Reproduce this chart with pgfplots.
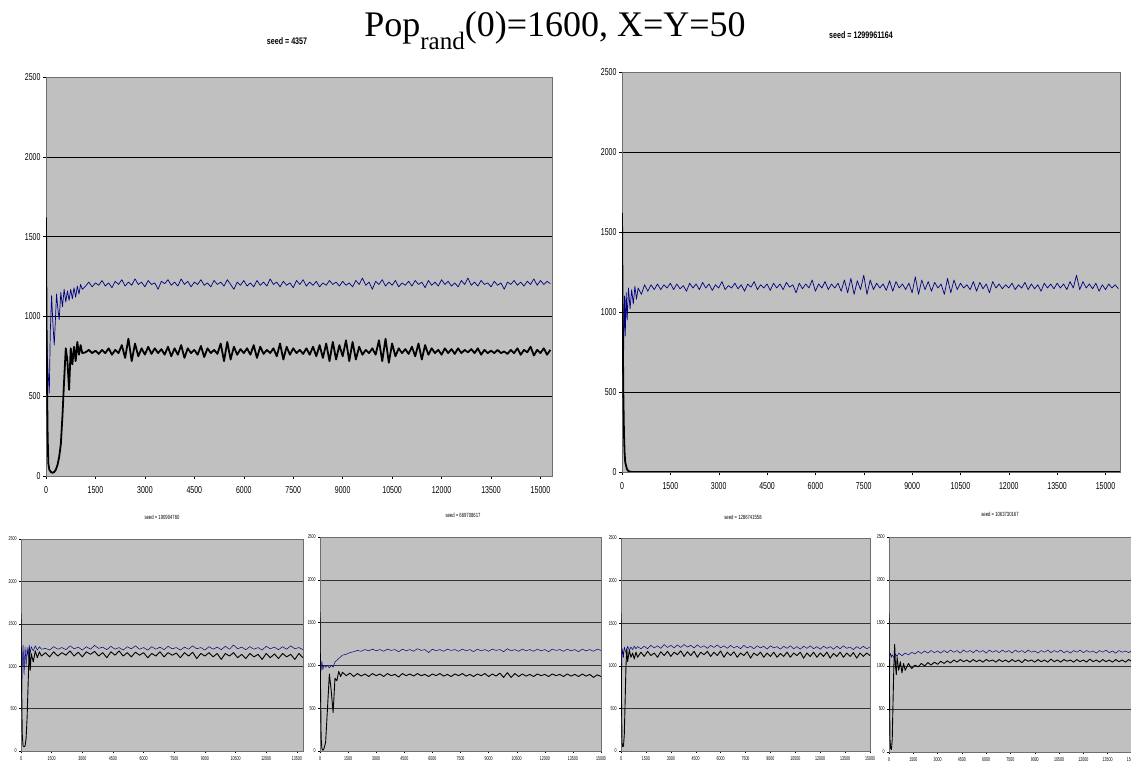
\documentclass[border=0pt]{standalone}
\usepackage{pgfplots}
\pgfplotsset{compat=1.18}
\usepackage{fontspec}
\setmainfont{Liberation Serif}
\newfontfamily\arial{Liberation Sans}
\definecolor{plotgray}{RGB}{192,192,192}
\definecolor{axgray}{RGB}{110,110,110}
\definecolor{navyline}{RGB}{0,0,128}
\pgfplotsset{
 excel/.style={scale only axis, clip=true, xmin=0, ymin=0, ymax=2500,
  ytick={0,500,...,2500}, xtick={0,1500,...,15000},
  scaled x ticks=false, scaled y ticks=false,
  axis background/.style={fill=plotgray},
  ymajorgrids, grid style={black, line width=0.5pt},
  axis line style={draw=axgray}, tick align=outside, tick pos=left,
  major tick length=3pt, tick style={black, line width=0.4pt},
  /pgf/number format/1000 sep={}, /pgf/number format/assume math mode=true,
  /pgf/number format/fixed,
  xticklabel={\pgfmathprintnumber[fixed,precision=0,1000 sep={}]{\tick}},
  enlargelimits=false},
 big/.style={excel, tick label style={font=\arial\fontsize{10}{10}\selectfont, xscale=0.7},
  xticklabel style={yshift=-4pt}},
 small/.style={excel, major tick length=2pt, grid style={black!80, line width=0.35pt},
  tick label style={font=\arial\fontsize{5.5}{5.5}\selectfont, xscale=0.65}},
 kline/.style={black, line width=1.8pt, line join=round},
 bline/.style={navyline, line width=0.7pt, line join=round},
 ksmall/.style={black, line width=0.9pt, line join=round},
 bsmall/.style={navyline, line width=0.5pt, line join=round},
}
\begin{document}
\begin{tikzpicture}
\path[use as bounding box] (0pt,0pt) rectangle (1131pt,768pt);
\clip (0pt,0pt) rectangle (1131pt,768pt);
% titles
\node[font=\fontsize{36}{36}\selectfont, anchor=base] at (555pt,731pt) {Pop\raisebox{-0.36em}{\fontsize{25}{25}\selectfont rand}(0)=1600, X=Y=50};
\node[font=\arial\bfseries\fontsize{9.5}{9.5}\selectfont, xscale=0.75] at (287pt,727pt) {seed = 4357};
\node[font=\arial\bfseries\fontsize{9.5}{9.5}\selectfont, xscale=0.75] at (861pt,733pt) {seed = 1299961164};
\node[font=\arial\fontsize{6}{6}\selectfont, xscale=0.7] at (162pt,251pt) {seed = 190904760};
\node[font=\arial\fontsize{6}{6}\selectfont, xscale=0.7] at (463pt,253pt) {seed = 669708617};
\node[font=\arial\fontsize{6}{6}\selectfont, xscale=0.7] at (743pt,251pt) {seed = 1286741558};
\node[font=\arial\fontsize{6}{6}\selectfont, xscale=0.7] at (1000pt,254pt) {seed = 1063730167};

% ---------- top left ----------
\begin{axis}[big, at={(46pt,292pt)}, anchor=south west, width=506pt, height=399pt, xmax=15350]
\addplot[bline] table[row sep=\\] {
0 1100\\20 900\\50 700\\100 520\\130 900\\170 1130\\210 950\\250 820\\290 1000\\320 1140\\360 1050\\400 980\\450 1150\\500 1060\\550 1170\\600 1090\\650 1160\\700 1100\\750 1170\\800 1110\\850 1180\\900 1120\\950 1190\\1000 1140\\1050 1200\\1100 1170\\
1200 1190\\1300 1215\\1400 1185\\1500 1210\\1600 1195\\1700 1225\\1800 1190\\1900 1210\\2000 1180\\2100 1220\\2200 1200\\2300 1230\\2400 1190\\2500 1215\\2600 1195\\2700 1235\\2800 1200\\2900 1215\\3000 1185\\3100 1225\\3200 1200\\3300 1210\\3400 1170\\3500 1220\\3600 1205\\3700 1230\\3800 1195\\3900 1215\\4000 1190\\4100 1235\\4200 1200\\4300 1220\\4400 1185\\4500 1215\\4600 1200\\4700 1230\\4800 1195\\4900 1210\\5000 1185\\5100 1225\\5200 1200\\5300 1215\\5400 1190\\5500 1230\\5600 1200\\5700 1170\\5800 1215\\5900 1195\\6000 1225\\6100 1190\\6200 1210\\6300 1185\\6400 1225\\6500 1195\\6600 1215\\6700 1190\\6800 1235\\6900 1200\\7000 1215\\7100 1185\\7200 1220\\7300 1195\\7400 1210\\7500 1180\\7600 1225\\7700 1200\\7800 1230\\7900 1190\\8000 1215\\8100 1195\\8200 1220\\8300 1185\\8400 1210\\8500 1195\\8600 1225\\8700 1200\\8800 1215\\8900 1190\\9000 1220\\9100 1195\\9200 1210\\9300 1185\\9400 1225\\9500 1200\\9600 1240\\9700 1195\\9800 1215\\9900 1170\\10000 1220\\10100 1200\\10200 1230\\10300 1190\\10400 1215\\10500 1195\\10600 1225\\10700 1185\\10800 1210\\10900 1195\\11000 1220\\11100 1190\\11200 1225\\11300 1200\\11400 1215\\11500 1180\\11600 1225\\11700 1195\\11800 1215\\11900 1190\\12000 1230\\12100 1200\\12200 1220\\12300 1190\\12400 1210\\12500 1185\\12600 1225\\12700 1200\\12800 1240\\12900 1195\\13000 1215\\13100 1190\\13200 1225\\13300 1200\\13400 1210\\13500 1185\\13600 1220\\13700 1195\\13800 1210\\13900 1170\\14000 1215\\14100 1200\\14200 1225\\14300 1195\\14400 1215\\14500 1190\\14600 1220\\14700 1200\\14800 1235\\14900 1195\\15000 1225\\15100 1200\\15200 1220\\15300 1205\\
};
\addplot[kline] table[row sep=\\] {
0 1620\\15 1000\\30 600\\50 250\\70 80\\100 40\\150 25\\200 20\\250 25\\300 40\\350 70\\400 120\\450 200\\500 380\\550 600\\600 800\\650 720\\700 540\\750 800\\800 700\\850 810\\900 720\\950 840\\1000 760\\1050 820\\1100 770\\
1200 775\\1300 790\\1400 770\\1500 785\\1600 765\\1700 790\\1800 770\\1900 800\\2000 760\\2100 790\\2200 770\\2300 820\\2400 740\\2500 860\\2600 720\\2700 830\\2800 750\\2900 800\\3000 760\\3100 810\\3200 765\\3300 800\\3400 770\\3500 795\\3600 760\\3700 810\\3800 750\\3900 800\\4000 760\\4100 820\\4200 740\\4300 800\\4400 770\\4500 790\\4600 760\\4700 815\\4800 745\\4900 800\\5000 770\\5100 790\\5200 765\\5300 830\\5400 720\\5500 840\\5600 730\\5700 810\\5800 760\\5900 795\\6000 770\\6100 800\\6200 760\\6300 820\\6400 740\\6500 810\\6600 765\\6700 790\\6800 770\\6900 800\\7000 750\\7100 830\\7200 730\\7300 810\\7400 760\\7500 800\\7600 770\\7700 790\\7800 765\\7900 800\\8000 760\\8100 810\\8200 750\\8300 820\\8400 740\\8500 830\\8600 720\\8700 840\\8800 730\\8900 820\\9000 750\\9100 850\\9200 720\\9300 840\\9400 730\\9500 810\\9600 760\\9700 790\\9800 770\\9900 800\\10000 760\\10100 850\\10200 720\\10300 860\\10400 710\\10500 830\\10600 750\\10700 800\\10800 770\\10900 795\\11000 765\\11100 810\\11200 750\\11300 830\\11400 730\\11500 820\\11600 760\\11700 800\\11800 770\\11900 790\\12000 760\\12100 800\\12200 770\\12300 795\\12400 765\\12500 800\\12600 770\\12700 790\\12800 775\\12900 795\\13000 770\\13100 800\\13200 760\\13300 790\\13400 770\\13500 785\\13600 770\\13700 790\\13800 770\\13900 780\\14000 765\\14100 790\\14200 770\\14300 800\\14400 760\\14500 790\\14600 775\\14700 810\\14800 755\\14900 790\\15000 770\\15100 800\\15200 760\\15300 790\\
};
\end{axis}

% ---------- top right ----------
\begin{axis}[big, at={(622pt,296pt)}, anchor=south west, width=498pt, height=400pt, xmax=15450]
\addplot[bline] table[row sep=\\] {
0 1500\\20 1100\\40 600\\60 900\\80 1100\\100 850\\130 1120\\160 950\\200 1150\\250 1020\\300 1140\\350 1050\\400 1160\\450 1080\\500 1150\\600 1110\\700 1170\\800 1130\\900 1170\\1000 1140\\
1100 1175\\1200 1140\\1300 1170\\1400 1150\\1500 1180\\1600 1140\\1700 1175\\1800 1145\\1900 1165\\2000 1130\\2100 1180\\2200 1150\\2300 1175\\2400 1140\\2500 1185\\2600 1150\\2700 1175\\2800 1135\\2900 1170\\3000 1150\\3100 1190\\3200 1140\\3300 1165\\3400 1150\\3500 1180\\3600 1145\\3700 1170\\3800 1130\\3900 1175\\4000 1155\\4100 1190\\4200 1140\\4300 1170\\4400 1150\\4500 1175\\4600 1135\\4700 1180\\4800 1150\\4900 1175\\5000 1140\\5100 1185\\5200 1155\\5300 1170\\5400 1120\\5500 1180\\5600 1145\\5700 1175\\5800 1150\\5900 1200\\6000 1130\\6100 1175\\6200 1150\\6300 1190\\6400 1140\\6500 1175\\6600 1150\\6700 1180\\6800 1130\\6900 1200\\7000 1120\\7100 1210\\7200 1110\\7300 1195\\7400 1140\\7500 1230\\7600 1110\\7700 1200\\7800 1140\\7900 1180\\8000 1150\\8100 1175\\8200 1135\\8300 1195\\8400 1130\\8500 1190\\8600 1150\\8700 1175\\8800 1140\\8900 1180\\9000 1120\\9100 1220\\9200 1110\\9300 1200\\9400 1140\\9500 1190\\9600 1130\\9700 1185\\9800 1150\\9900 1175\\10000 1110\\10100 1210\\10200 1120\\10300 1200\\10400 1140\\10500 1180\\10600 1150\\10700 1170\\10800 1140\\10900 1190\\11000 1130\\11100 1185\\11200 1145\\11300 1175\\11400 1120\\11500 1190\\11600 1150\\11700 1175\\11800 1145\\11900 1170\\12000 1150\\12100 1180\\12200 1140\\12300 1170\\12400 1150\\12500 1185\\12600 1140\\12700 1175\\12800 1145\\12900 1170\\13000 1130\\13100 1180\\13200 1150\\13300 1175\\13400 1145\\13500 1180\\13600 1150\\13700 1175\\13800 1140\\13900 1190\\14000 1150\\14100 1230\\14200 1140\\14300 1190\\14400 1150\\14500 1175\\14600 1145\\14700 1180\\14800 1130\\14900 1170\\15000 1140\\15100 1175\\15200 1150\\15300 1170\\15400 1145\\
};
\addplot[kline] table[row sep=\\] {
0 1620\\20 1000\\40 500\\60 250\\80 120\\100 60\\150 20\\200 5\\300 0\\15450 0\\
};
\end{axis}

% ---------- small 1 ----------
\begin{axis}[small, at={(21pt,17pt)}, anchor=south west, width=282pt, height=212pt, xmax=13800]
\addplot[bsmall] table[row sep=\\] {
0 1100\\30 600\\60 1000\\100 1250\\150 900\\200 1230\\250 1000\\300 1220\\350 1100\\400 1250\\450 1150\\500 1230\\600 1180\\700 1240\\800 1190\\900 1230\\1000 1200\\
1200 1210\\1400 1190\\1600 1230\\1800 1200\\2000 1220\\2200 1195\\2400 1240\\2600 1205\\2800 1225\\3000 1190\\3200 1230\\3400 1200\\3600 1245\\3800 1210\\4000 1225\\4200 1195\\4400 1235\\4600 1200\\4800 1220\\5000 1190\\5200 1230\\5400 1205\\5600 1240\\5800 1200\\6000 1220\\6200 1190\\6400 1230\\6600 1200\\6800 1225\\7000 1195\\7200 1235\\7400 1205\\7600 1220\\7800 1190\\8000 1225\\8200 1200\\8400 1240\\8600 1205\\8800 1220\\9000 1190\\9200 1230\\9400 1200\\9600 1225\\9800 1195\\10000 1235\\10200 1200\\10400 1250\\10600 1205\\10800 1225\\11000 1195\\11200 1230\\11400 1200\\11600 1220\\11800 1190\\12000 1235\\12200 1205\\12400 1225\\12600 1195\\12800 1230\\13000 1200\\13200 1240\\13400 1205\\13600 1220\\13800 1195\\
};
\addplot[ksmall] table[row sep=\\] {
0 1620\\30 800\\60 200\\100 60\\150 50\\200 60\\250 150\\300 400\\350 800\\400 1200\\450 950\\500 1150\\600 1050\\700 1180\\800 1100\\900 1170\\1000 1120\\
1200 1160\\1400 1110\\1600 1170\\1800 1120\\2000 1160\\2200 1130\\2400 1180\\2600 1120\\2800 1165\\3000 1110\\3200 1170\\3400 1140\\3600 1175\\3800 1120\\4000 1160\\4200 1100\\4400 1170\\4600 1130\\4800 1180\\5000 1120\\5200 1160\\5400 1110\\5600 1165\\5800 1130\\6000 1160\\6200 1100\\6400 1150\\6600 1120\\6800 1170\\7000 1110\\7200 1160\\7400 1130\\7600 1155\\7800 1100\\8000 1160\\8200 1120\\8400 1165\\8600 1090\\8800 1150\\9000 1120\\9200 1160\\9400 1110\\9600 1150\\9800 1080\\10000 1150\\10200 1120\\10400 1160\\10600 1100\\10800 1140\\11000 1090\\11200 1150\\11400 1110\\11600 1140\\11800 1080\\12000 1150\\12200 1100\\12400 1145\\12600 1090\\12800 1150\\13000 1110\\13200 1140\\13400 1080\\13600 1150\\13800 1100\\
};
\end{axis}

% ---------- small 2 ----------
\begin{axis}[small, at={(320pt,17pt)}, anchor=south west, width=281pt, height=214pt, xmax=15000]
\addplot[bsmall] table[row sep=\\] {
0 1000\\30 900\\60 950\\100 1050\\150 950\\200 1000\\300 980\\400 1000\\500 970\\600 1000\\700 980\\800 1040\\900 1060\\1000 1080\\1100 1100\\1200 1120\\
1400 1130\\1600 1150\\1800 1160\\2000 1175\\2200 1165\\2400 1185\\2600 1170\\2800 1190\\3000 1170\\3200 1185\\3400 1165\\3600 1190\\3800 1175\\4000 1185\\4200 1160\\4400 1190\\4600 1170\\4800 1185\\5000 1165\\5200 1195\\5400 1175\\5600 1185\\5800 1150\\6000 1190\\6200 1170\\6400 1185\\6600 1165\\6800 1190\\7000 1175\\7200 1185\\7400 1165\\7600 1190\\7800 1170\\8000 1185\\8200 1160\\8400 1190\\8600 1170\\8800 1185\\9000 1165\\9200 1190\\9400 1175\\9600 1185\\9800 1160\\10000 1195\\10200 1170\\10400 1185\\10600 1165\\10800 1190\\11000 1170\\11200 1185\\11400 1165\\11600 1190\\11800 1170\\12000 1185\\12200 1160\\12400 1190\\12600 1175\\12800 1185\\13000 1165\\13200 1190\\13400 1170\\13600 1185\\13800 1160\\14000 1190\\14200 1170\\14400 1185\\14600 1165\\14800 1190\\15000 1175\\
};
\addplot[ksmall] table[row sep=\\] {
0 1620\\30 700\\60 150\\100 30\\150 10\\200 20\\300 100\\400 500\\500 900\\600 700\\700 450\\800 850\\900 820\\1000 930\\1100 870\\1200 920\\
1400 880\\1600 910\\1800 870\\2000 905\\2200 875\\2400 900\\2600 870\\2800 905\\3000 880\\3200 900\\3400 870\\3600 905\\3800 880\\4000 895\\4200 865\\4400 905\\4600 880\\4800 900\\5000 875\\5200 905\\5400 880\\5600 895\\5800 870\\6000 900\\6200 880\\6400 905\\6600 875\\6800 895\\7000 870\\7200 900\\7400 880\\7600 905\\7800 875\\8000 895\\8200 870\\8400 900\\8600 880\\8800 905\\9000 870\\9200 900\\9400 875\\9600 910\\9800 860\\10000 915\\10200 860\\10400 905\\10600 870\\10800 900\\11000 875\\11200 895\\11400 870\\11600 900\\11800 880\\12000 895\\12200 870\\12400 900\\12600 880\\12800 895\\13000 870\\13200 900\\13400 875\\13600 895\\13800 870\\14000 900\\14200 875\\14400 895\\14600 860\\14800 890\\15000 870\\
};
\end{axis}

% ---------- small 3 ----------
\begin{axis}[small, at={(621pt,17pt)}, anchor=south west, width=249pt, height=213pt, xmax=15000]
\addplot[bsmall] table[row sep=\\] {
0 1000\\30 800\\60 1100\\100 1200\\150 1100\\200 1220\\300 1150\\400 1230\\500 1180\\600 1220\\700 1190\\800 1230\\900 1200\\1000 1225\\
1200 1200\\1400 1230\\1600 1200\\1800 1240\\2000 1210\\2200 1235\\2400 1205\\2600 1250\\2800 1215\\3000 1240\\3200 1210\\3400 1245\\3600 1215\\3800 1250\\4000 1220\\4200 1240\\4400 1210\\4600 1245\\4800 1215\\5000 1235\\5200 1205\\5400 1240\\5600 1215\\5800 1245\\6000 1210\\6200 1235\\6400 1205\\6600 1240\\6800 1210\\7000 1230\\7200 1200\\7400 1240\\7600 1210\\7800 1230\\8000 1200\\8200 1235\\8400 1210\\8600 1230\\8800 1195\\9000 1235\\9200 1210\\9400 1225\\9600 1195\\9800 1230\\10000 1205\\10200 1235\\10400 1200\\10600 1225\\10800 1195\\11000 1230\\11200 1205\\11400 1235\\11600 1200\\11800 1225\\12000 1195\\12200 1230\\12400 1205\\12600 1225\\12800 1195\\13000 1230\\13200 1200\\13400 1235\\13600 1205\\13800 1220\\14000 1190\\14200 1225\\14400 1200\\14600 1230\\14800 1200\\15000 1220\\
};
\addplot[ksmall] table[row sep=\\] {
0 1620\\30 600\\60 100\\100 50\\150 60\\200 200\\250 600\\300 1000\\350 1200\\400 1050\\500 1180\\600 1100\\700 1150\\800 1080\\900 1160\\1000 1100\\
1200 1160\\1400 1110\\1600 1170\\1800 1120\\2000 1150\\2200 1100\\2400 1165\\2600 1120\\2800 1170\\3000 1110\\3200 1160\\3400 1130\\3600 1175\\3800 1110\\4000 1165\\4200 1120\\4400 1170\\4600 1100\\4800 1160\\5000 1130\\5200 1170\\5400 1110\\5600 1160\\5800 1120\\6000 1175\\6200 1100\\6400 1160\\6600 1120\\6800 1165\\7000 1100\\7200 1150\\7400 1120\\7600 1165\\7800 1090\\8000 1150\\8200 1120\\8400 1160\\8600 1100\\8800 1150\\9000 1110\\9200 1160\\9400 1100\\9600 1145\\9800 1110\\10000 1160\\10200 1100\\10400 1150\\10600 1120\\10800 1160\\11000 1090\\11200 1150\\11400 1110\\11600 1160\\11800 1100\\12000 1150\\12200 1110\\12400 1160\\12600 1090\\12800 1145\\13000 1110\\13200 1160\\13400 1100\\13600 1150\\13800 1110\\14000 1155\\14200 1090\\14400 1150\\14600 1110\\14800 1150\\15000 1120\\
};
\end{axis}

% ---------- small 4 ----------
\begin{axis}[small, at={(889pt,16pt)}, anchor=south west, width=251pt, height=215pt, xmax=15500]
\addplot[bsmall] table[row sep=\\] {
0 1000\\30 900\\60 1120\\100 1150\\150 1100\\200 1130\\300 1100\\400 1140\\500 1110\\600 1150\\800 1120\\1000 1150\\1200 1130\\1400 1160\\
1600 1140\\1800 1170\\2000 1145\\2200 1175\\2400 1150\\2600 1180\\2800 1155\\3000 1175\\3200 1150\\3400 1180\\3600 1155\\3800 1185\\4000 1160\\4200 1180\\4400 1150\\4600 1185\\4800 1160\\5000 1180\\5200 1155\\5400 1185\\5600 1160\\5800 1180\\6000 1150\\6200 1185\\6400 1160\\6600 1180\\6800 1155\\7000 1185\\7200 1160\\7400 1180\\7600 1150\\7800 1185\\8000 1160\\8200 1180\\8400 1155\\8600 1185\\8800 1160\\9000 1175\\9200 1150\\9400 1180\\9600 1160\\9800 1185\\10000 1155\\10200 1180\\10400 1160\\10600 1185\\10800 1155\\11000 1175\\11200 1150\\11400 1180\\11600 1160\\11800 1185\\12000 1155\\12200 1180\\12400 1160\\12600 1175\\12800 1150\\13000 1180\\13200 1160\\13400 1185\\13600 1155\\13800 1175\\14000 1150\\14200 1180\\14400 1160\\14600 1175\\14800 1155\\15000 1180\\15200 1160\\15400 1175\\15600 1150\\
};
\addplot[ksmall] table[row sep=\\] {
0 1620\\30 700\\60 150\\100 40\\150 30\\200 150\\250 600\\300 1000\\350 1250\\400 1000\\450 900\\500 1100\\600 950\\700 1050\\800 920\\900 1030\\1000 950\\1200 1030\\1400 970\\
1600 1010\\1800 990\\2000 1030\\2200 1000\\2400 1040\\2600 1010\\2800 1045\\3000 1020\\3200 1055\\3400 1030\\3600 1060\\3800 1035\\4000 1070\\4200 1045\\4400 1075\\4600 1050\\4800 1070\\5000 1045\\5200 1075\\5400 1050\\5600 1070\\5800 1045\\6000 1075\\6200 1055\\6400 1070\\6600 1045\\6800 1075\\7000 1050\\7200 1070\\7400 1045\\7600 1075\\7800 1050\\8000 1070\\8200 1040\\8400 1075\\8600 1055\\8800 1070\\9000 1045\\9200 1075\\9400 1050\\9600 1070\\9800 1045\\10000 1080\\10200 1050\\10400 1070\\10600 1045\\10800 1075\\11000 1055\\11200 1070\\11400 1045\\11600 1075\\11800 1050\\12000 1070\\12200 1045\\12400 1080\\12600 1050\\12800 1070\\13000 1045\\13200 1075\\13400 1050\\13600 1070\\13800 1045\\14000 1075\\14200 1050\\14400 1070\\14600 1045\\14800 1075\\15000 1050\\15200 1070\\15400 1045\\15600 1075\\
};
\end{axis}
\end{tikzpicture}
\end{document}
